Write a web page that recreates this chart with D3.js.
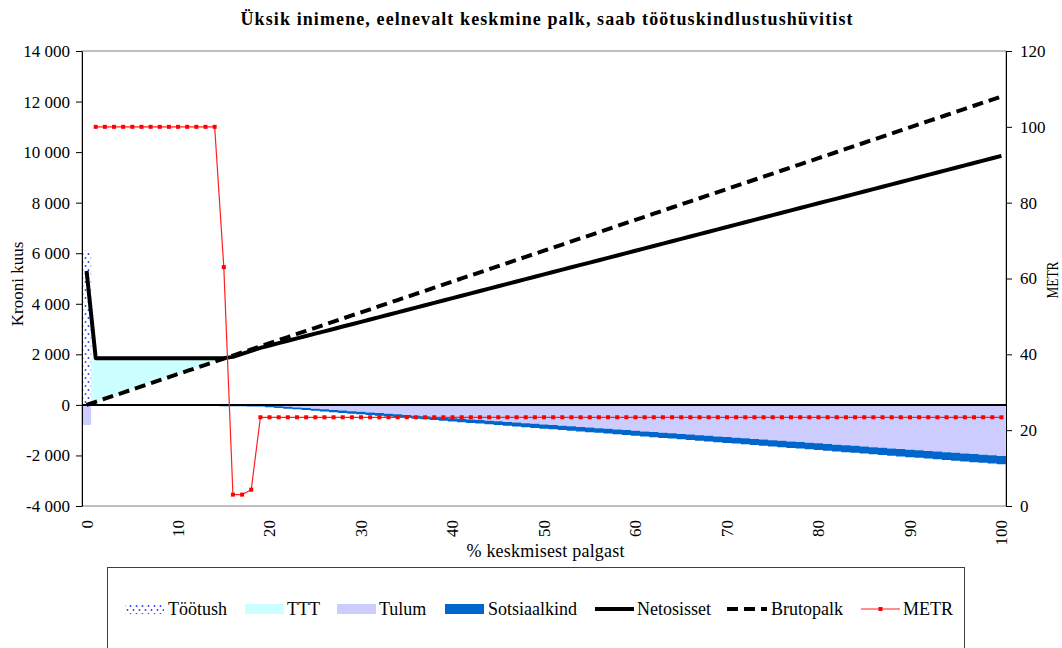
<!DOCTYPE html>
<html><head><meta charset="utf-8">
<script src="https://cdn.jsdelivr.net/npm/d3@7"></script>
<style>
body{margin:0;background:#fff}
svg{display:block}
</style>
</head><body>
<svg id="c" width="1062" height="648"></svg>
<script>
// ---------------- DATA ----------------
const categories = [0,1,2,3,4,5,6,7,8,9,10,11,12,13,14,15,16,17,18,19,20,21,22,23,24,25,26,27,28,29,30,31,32,33,34,35,36,37,38,39,40,41,42,43,44,45,46,47,48,49,50,51,52,53,54,55,56,57,58,59,60,61,62,63,64,65,66,67,68,69,70,71,72,73,74,75,76,77,78,79,80,81,82,83,84,85,86,87,88,89,90,91,92,93,94,95,96,97,98,99,100];
const xTickValues = [0,10,20,30,40,50,60,70,80,90,100];
const leftTicks = [-4000,-2000,0,2000,4000,6000,8000,10000,12000,14000];
const rightTicks = [0,20,40,60,80,100,120];

const brutopalk = [0,122,244,366,488,610,732,854,976,1098,1220,1342,1464,1586,1708,1830,1952,2074,2196,2318,2440,2562,2684,2806,2928,3050,3172,3294,3416,3538,3660,3782,3904,4026,4148,4270,4392,4514,4636,4758,4880,5002,5124,5246,5368,5490,5612,5734,5856,5978,6100,6222,6344,6466,6588,6710,6832,6954,7076,7198,7320,7442,7564,7686,7808,7930,8052,8174,8296,8418,8540,8662,8784,8906,9028,9150,9272,9394,9516,9638,9760,9882,10004,10126,10248,10370,10492,10614,10736,10858,10980,11102,11224,11346,11468,11590,11712,11834,11956,12078,12200];

const netosisset = [5300,1850,1850,1850,1850,1850,1850,1850,1850,1850,1850,1850,1850,1850,1850,1850,1899,2018,2137,2254,2348,2442,2536,2629,2723,2817,2910,3004,3099,3192,3286,3380,3473,3567,3661,3755,3848,3942,4036,4130,4224,4317,4411,4505,4599,4693,4786,4880,4974,5068,5161,5255,5349,5443,5537,5630,5724,5818,5912,6005,6099,6193,6287,6381,6474,6568,6662,6756,6849,6943,7037,7131,7225,7318,7412,7506,7600,7693,7787,7881,7975,8069,8162,8256,8350,8444,8537,8631,8725,8819,8913,9006,9100,9194,9288,9381,9475,9569,9663,9757,9850];

const tootush = [6100,0,0,0,0,0,0,0,0,0,0,0,0,0,0,0,0,0,0,0,0,0,0,0,0,0,0,0,0,0,0,0,0,0,0,0,0,0,0,0,0,0,0,0,0,0,0,0,0,0,0,0,0,0,0,0,0,0,0,0,0,0,0,0,0,0,0,0,0,0,0,0,0,0,0,0,0,0,0,0,0,0,0,0,0,0,0,0,0,0,0,0,0,0,0,0,0,0,0,0,0];

const ttt = [0,1728,1606,1484,1362,1240,1118,996,874,752,630,508,386,264,142,20,0,0,0,0,0,0,0,0,0,0,0,0,0,0,0,0,0,0,0,0,0,0,0,0,0,0,0,0,0,0,0,0,0,0,0,0,0,0,0,0,0,0,0,0,0,0,0,0,0,0,0,0,0,0,0,0,0,0,0,0,0,0,0,0,0,0,0,0,0,0,0,0,0,0,0,0,0,0,0,0,0,0,0,0,0];

const tulum = [-800,0,0,0,0,0,0,0,0,0,0,0,0,0,0,0,0,0,0,-1,-26,-51,-76,-101,-126,-151,-176,-201,-225,-250,-275,-300,-325,-350,-375,-400,-425,-450,-475,-500,-525,-550,-574,-599,-624,-649,-674,-699,-724,-749,-774,-799,-824,-849,-874,-899,-923,-948,-973,-998,-1023,-1048,-1073,-1098,-1123,-1148,-1173,-1198,-1223,-1248,-1272,-1297,-1322,-1347,-1372,-1397,-1422,-1447,-1472,-1497,-1522,-1547,-1572,-1597,-1621,-1646,-1671,-1696,-1721,-1746,-1771,-1796,-1821,-1846,-1871,-1896,-1921,-1946,-1970,-1995,-2020];

const sotsiaalkind = [0,-3,-7,-10,-13,-16,-20,-23,-26,-30,-33,-36,-40,-43,-46,-49,-53,-56,-59,-63,-66,-69,-72,-76,-79,-82,-86,-89,-92,-96,-99,-102,-105,-109,-112,-115,-119,-122,-125,-128,-132,-135,-138,-142,-145,-148,-152,-155,-158,-161,-165,-168,-171,-175,-178,-181,-184,-188,-191,-194,-198,-201,-204,-208,-211,-214,-217,-221,-224,-227,-231,-234,-237,-240,-244,-247,-250,-254,-257,-260,-264,-267,-270,-273,-277,-280,-283,-287,-290,-293,-296,-300,-303,-306,-310,-313,-316,-320,-323,-326,-329];

const metr = [null,100,100,100,100,100,100,100,100,100,100,100,100,100,100,63,3,3,4.3,23.4,23.4,23.4,23.4,23.4,23.4,23.4,23.4,23.4,23.4,23.4,23.4,23.4,23.4,23.4,23.4,23.4,23.4,23.4,23.4,23.4,23.4,23.4,23.4,23.4,23.4,23.4,23.4,23.4,23.4,23.4,23.4,23.4,23.4,23.4,23.4,23.4,23.4,23.4,23.4,23.4,23.4,23.4,23.4,23.4,23.4,23.4,23.4,23.4,23.4,23.4,23.4,23.4,23.4,23.4,23.4,23.4,23.4,23.4,23.4,23.4,23.4,23.4,23.4,23.4,23.4,23.4,23.4,23.4,23.4,23.4,23.4,23.4,23.4,23.4,23.4,23.4,23.4,23.4,23.4,23.4,23.4];

const legendItems = ["Töötush","TTT","Tulum","Sotsiaalkind","Netosisset","Brutopalk","METR"];

// ---------------- CHART ----------------
const M = {left:82, right:1006, top:51, bottom:506};
const svg = d3.select("#c");
const FF = "'Liberation Serif', 'Times New Roman', serif";
const FS = 17;

const x = d3.scaleBand().domain(categories).range([M.left, M.right]).padding(0);
const bw = x.bandwidth();
const cx = k => x(k) + bw/2;
const y = d3.scaleLinear().domain([-4000,14000]).range([M.bottom, M.top]);
const y2 = d3.scaleLinear().domain([0,120]).range([M.bottom, M.top]);

const loc = d3.formatLocale({decimal:",", thousands:" ", grouping:[3], currency:["",""], minus:"-"});
const fmt = loc.format(",d");

const defs = svg.append("defs");
const pat = defs.append("pattern").attr("id","dots").attr("patternUnits","userSpaceOnUse")
  .attr("width",6).attr("height",8);
pat.append("rect").attr("width",6).attr("height",8).attr("fill","#fff");
pat.append("circle").attr("cx",1.5).attr("cy",2).attr("r",0.95).attr("fill","#2a3cff");
pat.append("circle").attr("cx",4.5).attr("cy",6).attr("r",0.95).attr("fill","#2a3cff");

// plot border
svg.append("rect").attr("x",M.left).attr("y",M.top).attr("width",M.right-M.left).attr("height",M.bottom-M.top)
  .attr("fill","none").attr("stroke","#808080").attr("stroke-width",1);

// stacked areas
const rows = categories.map((k,i)=>({k, base:brutopalk[i], tootush:tootush[i], ttt:ttt[i], tulum:tulum[i], sots:sotsiaalkind[i]}));
const layers = d3.stack().keys(["base","tootush","ttt","tulum","sots"]).offset(d3.stackOffsetDiverging)(rows);
const fills = {tootush:"url(#dots)", ttt:"#CCFFFF", tulum:"#CCCCFF", sots:"#0066CC"};
const area = d3.area().x(d=>d.x).y0(d=>y(d.y0)).y1(d=>y(d.y1));
layers.filter(l=>l.key!=="base").forEach(l=>{
  const pts = l.flatMap((d,i)=>[{x:x(categories[i]), y0:d[0], y1:d[1]},{x:x(categories[i])+bw, y0:d[0], y1:d[1]}]);
  svg.append("path").attr("d", area(pts)).attr("fill", fills[l.key]).attr("stroke","none");
});

// left axis
const gL = svg.append("g").attr("transform",`translate(${M.left},0)`)
  .call(d3.axisLeft(y).tickValues(leftTicks).tickSize(6).tickSizeOuter(0).tickPadding(6).tickFormat(fmt));
gL.selectAll("text").style("font-family",FF).style("font-size",FS+"px");
gL.select(".domain").attr("stroke","#000");

// right axis
const gR = svg.append("g").attr("transform",`translate(${M.right},0)`)
  .call(d3.axisRight(y2).tickValues(rightTicks).tickSize(6).tickSizeOuter(0).tickPadding(8).tickFormat(d3.format("d")));
gR.selectAll("text").style("font-family",FF).style("font-size",FS+"px");

// bottom labels
const gB = svg.append("g").attr("transform",`translate(0,${M.bottom})`)
  .call(d3.axisBottom(x).tickValues(xTickValues).tickSize(0).tickFormat(d3.format("d")));
gB.select(".domain").remove();
gB.selectAll("text").style("font-family",FF).style("font-size",FS+"px")
  .attr("transform","rotate(-90)").attr("text-anchor","end").attr("x",-14).attr("y",0).attr("dy","0.35em");

// zero (category) axis line
svg.append("line").attr("x1",M.left).attr("x2",M.right).attr("y1",y(0)).attr("y2",y(0))
  .attr("stroke","#000").attr("stroke-width",2);

// lines
const line = d3.line().x((d,i)=>cx(categories[i])).y(d=>y(d));
svg.append("path").attr("d",line(netosisset)).attr("fill","none").attr("stroke","#000")
  .attr("stroke-width",4).attr("stroke-linejoin","round");
svg.append("path").attr("d",line(brutopalk)).attr("fill","none").attr("stroke","#000")
  .attr("stroke-width",4).attr("stroke-dasharray","11,6");

const mline = d3.line().defined(d=>d!=null).x((d,i)=>cx(categories[i])).y(d=>y2(d));
svg.append("path").attr("d",mline(metr)).attr("fill","none").attr("stroke","#ff2020").attr("stroke-width",1.2);
svg.append("g").selectAll("rect").data(metr.map((v,i)=>({v,k:categories[i]})).filter(d=>d.v!=null))
  .join("rect").attr("x",d=>cx(d.k)-2).attr("y",d=>y2(d.v)-2).attr("width",4).attr("height",4).attr("fill","#ff0000");

// titles
svg.append("text").attr("x",546.5).attr("y",25).attr("text-anchor","middle")
  .style("font-family",FF).style("font-weight","bold").style("font-size","18px")
  .attr("textLength",612).attr("lengthAdjust","spacing")
  .text("Üksik inimene, eelnevalt keskmine palk, saab töötuskindlustushüvitist");
svg.append("text").attr("x",545.5).attr("y",557).attr("text-anchor","middle")
  .style("font-family",FF).style("font-size","18px").attr("textLength",158).attr("lengthAdjust","spacing")
  .text("% keskmisest palgast");
svg.append("text").attr("transform","translate(23,284) rotate(-90)").attr("text-anchor","middle")
  .style("font-family",FF).style("font-size","17px").text("Krooni kuus");
svg.append("text").attr("transform","translate(1058,280) rotate(-90)").attr("text-anchor","middle")
  .style("font-family",FF).style("font-size","17px").attr("textLength",37).attr("lengthAdjust","spacingAndGlyphs").text("METR");

// legend
const lg = svg.append("g");
lg.append("rect").attr("x",107.5).attr("y",567.5).attr("width",857).attr("height",100).attr("fill","#fff").attr("stroke","#404040");
const symX = [125,245,337,445,595,727,861];
const txtX = [168,287,379,488,637,771,903];
const LY = 609;
const areaFills = ["url(#dots)","#CCFFFF","#CCCCFF","#0066CC"];
legendItems.forEach((name,i)=>{
  if(i<4){
    lg.append("rect").attr("x",symX[i]).attr("y",LY-5).attr("width",39).attr("height",10).attr("fill",areaFills[i]);
  } else if(i===4){
    lg.append("line").attr("x1",symX[i]).attr("x2",symX[i]+39).attr("y1",LY).attr("y2",LY).attr("stroke","#000").attr("stroke-width",4);
  } else if(i===5){
    lg.append("line").attr("x1",symX[i]).attr("x2",symX[i]+40).attr("y1",LY).attr("y2",LY).attr("stroke","#000").attr("stroke-width",4).attr("stroke-dasharray","11,6");
  } else {
    lg.append("line").attr("x1",symX[i]).attr("x2",symX[i]+39).attr("y1",LY).attr("y2",LY).attr("stroke","#ff2020").attr("stroke-width",1.2);
    lg.append("rect").attr("x",symX[i]+19.5-2).attr("y",LY-2).attr("width",4).attr("height",4).attr("fill","#ff0000");
  }
  lg.append("text").attr("x",txtX[i]).attr("y",LY).attr("dy","0.35em")
    .style("font-family",FF).style("font-size","18px").text(name);
});
</script>
</body></html>
